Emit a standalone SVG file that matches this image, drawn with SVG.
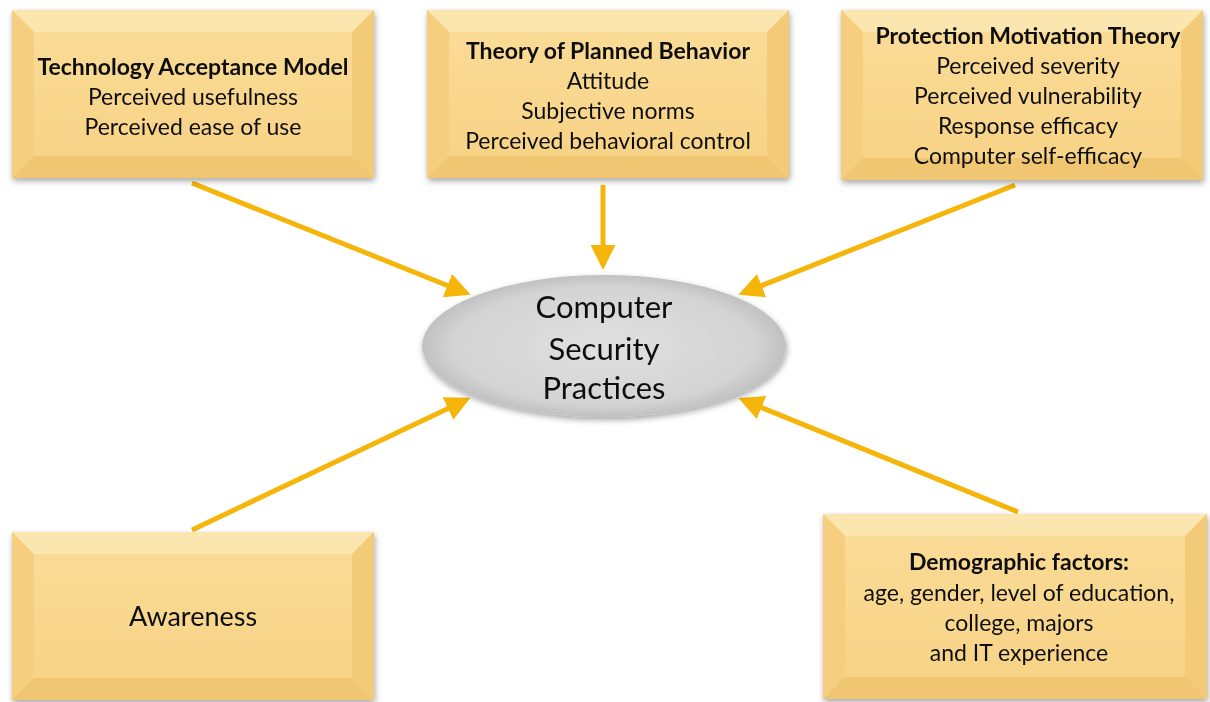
<svg xmlns="http://www.w3.org/2000/svg" width="1210" height="702" viewBox="0 0 1210 702">
<defs>
<linearGradient id="face" x1="0" y1="0" x2="0" y2="1">
<stop offset="0" stop-color="#FADB96"/><stop offset="1" stop-color="#F7D386"/>
</linearGradient>
<radialGradient id="oval" cx="0.5" cy="0.5" r="0.55">
<stop offset="0" stop-color="#E0E0E0"/><stop offset="0.75" stop-color="#D4D4D4"/><stop offset="1" stop-color="#B6B6B6"/>
</radialGradient>
<filter id="sh" x="-10%" y="-10%" width="125%" height="130%">
<feGaussianBlur in="SourceAlpha" stdDeviation="3"/>
<feOffset dx="1" dy="3"/>
<feComponentTransfer><feFuncA type="linear" slope="0.35"/></feComponentTransfer>
<feMerge><feMergeNode/><feMergeNode in="SourceGraphic"/></feMerge>
</filter>
<marker id="ah" markerWidth="5" markerHeight="5" refX="4" refY="2.5" orient="auto" markerUnits="strokeWidth">
<path d="M0,0 L5,2.5 L0,5 z" fill="#F5B50A"/>
</marker>
</defs>
<style>
.t{font-family:Lato,"Liberation Sans",sans-serif;fill:#111;text-anchor:middle;font-size:23px}
.b{font-weight:bold}
.c{stroke:#F5B50A;stroke-width:5;fill:none;marker-end:url(#ah)}
.top{fill:#FCE6B0}.lft{fill:#F5CE80}.rgt{fill:#F2CA78}.bot{fill:#F0C673}
</style>

<g id="connectors">
<line class="c" x1="192" y1="183" x2="466" y2="293"/>
<line class="c" x1="603" y1="185" x2="603" y2="265"/>
<line class="c" x1="1015" y1="185" x2="743" y2="293"/>
<line class="c" x1="192" y1="530" x2="466" y2="400"/>
<line class="c" x1="1018" y1="512" x2="743" y2="400"/>
</g>

<g id="tam" filter="url(#sh)">
<rect x="12" y="10" width="362" height="168" fill="url(#face)"/>
<polygon class="top" points="12,10 374,10 352,32 34,32"/>
<polygon class="lft" points="12,10 34,32 34,156 12,178"/>
<polygon class="rgt" points="374,10 352,32 352,156 374,178"/>
<polygon class="bot" points="12,178 34,156 352,156 374,178"/>
<rect x="34" y="32" width="318" height="124" fill="url(#face)"/>
<text class="t b" x="193" y="75">Technology Acceptance Model</text>
<text class="t" x="193" y="105">Perceived usefulness</text>
<text class="t" x="193" y="135">Perceived ease of use</text>
</g>

<g id="tpb" filter="url(#sh)">
<rect x="427" y="10" width="362" height="168" fill="url(#face)"/>
<polygon class="top" points="427,10 789,10 767,32 449,32"/>
<polygon class="lft" points="427,10 449,32 449,156 427,178"/>
<polygon class="rgt" points="789,10 767,32 767,156 789,178"/>
<polygon class="bot" points="427,178 449,156 767,156 789,178"/>
<rect x="449" y="32" width="318" height="124" fill="url(#face)"/>
<text class="t b" x="608" y="59">Theory of Planned Behavior</text>
<text class="t" x="608" y="89">Attitude</text>
<text class="t" x="608" y="119">Subjective norms</text>
<text class="t" x="608" y="149">Perceived behavioral control</text>
</g>

<g id="pmt" filter="url(#sh)">
<rect x="841" y="10" width="362" height="170" fill="url(#face)"/>
<polygon class="top" points="841,10 1203,10 1181,32 863,32"/>
<polygon class="lft" points="841,10 863,32 863,158 841,180"/>
<polygon class="rgt" points="1203,10 1181,32 1181,158 1203,180"/>
<polygon class="bot" points="841,180 863,158 1181,158 1203,180"/>
<rect x="863" y="32" width="318" height="126" fill="url(#face)"/>
<text class="t b" x="1028" y="44">Protection Motivation Theory</text>
<text class="t" x="1028" y="74">Perceived severity</text>
<text class="t" x="1028" y="104">Perceived vulnerability</text>
<text class="t" x="1028" y="134">Response efficacy</text>
<text class="t" x="1028" y="164">Computer self-efficacy</text>
</g>

<g id="csp" filter="url(#sh)">
<ellipse cx="604" cy="346" rx="182" ry="71" fill="url(#oval)"/>
<text class="t" x="604" y="318" style="font-size:31px">Computer</text>
<text class="t" x="604" y="360" style="font-size:31px">Security</text>
<text class="t" x="604" y="399" style="font-size:31px">Practices</text>
</g>

<g id="awareness" filter="url(#sh)">
<rect x="12" y="532" width="362" height="168" fill="url(#face)"/>
<polygon class="top" points="12,532 374,532 352,554 34,554"/>
<polygon class="lft" points="12,532 34,554 34,678 12,700"/>
<polygon class="rgt" points="374,532 352,554 352,678 374,700"/>
<polygon class="bot" points="12,700 34,678 352,678 374,700"/>
<rect x="34" y="554" width="318" height="124" fill="url(#face)"/>
<text class="t" x="193" y="626" style="font-size:27px">Awareness</text>
</g>

<g id="demo" filter="url(#sh)">
<rect x="823" y="514" width="384" height="185" fill="url(#face)"/>
<polygon class="top" points="823,514 1207,514 1185,536 845,536"/>
<polygon class="lft" points="823,514 845,536 845,677 823,699"/>
<polygon class="rgt" points="1207,514 1185,536 1185,677 1207,699"/>
<polygon class="bot" points="823,699 845,677 1185,677 1207,699"/>
<rect x="845" y="536" width="340" height="141" fill="url(#face)"/>
<text class="t b" x="1019" y="570">Demographic factors:</text>
<text class="t" x="1019" y="601">age, gender, level of education,</text>
<text class="t" x="1019" y="631">college, majors</text>
<text class="t" x="1019" y="661">and IT experience</text>
</g>
</svg>
